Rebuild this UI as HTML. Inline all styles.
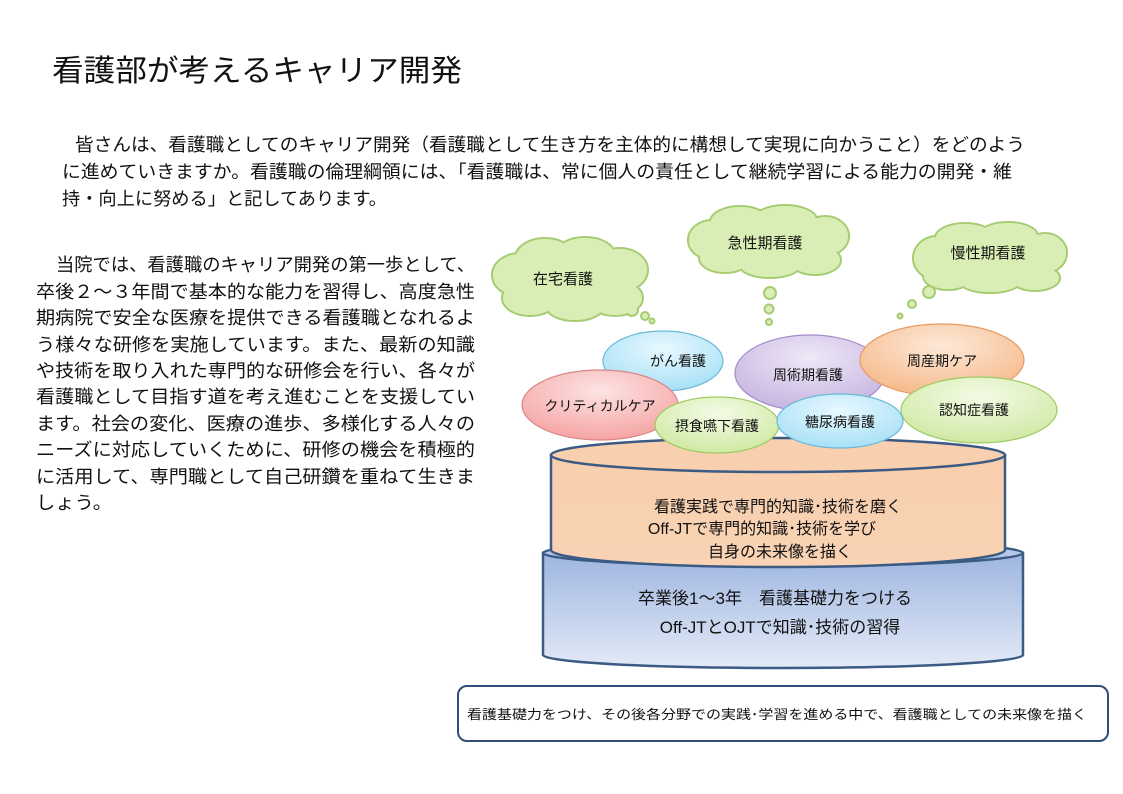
<!DOCTYPE html>
<html><head><meta charset="utf-8"><style>
html,body{margin:0;padding:0;background:#fff;}
svg{display:block;}
text{font-family:"Liberation Sans","Noto Sans CJK JP",sans-serif;fill:#111;}
</style></head><body>
<svg width="1123" height="794" viewBox="0 0 1123 794" xmlns="http://www.w3.org/2000/svg">
<defs>
<linearGradient id="gb" x1="0" y1="0" x2="0" y2="1"><stop offset="0" stop-color="#9db5e0"/><stop offset="1" stop-color="#e3eaf7"/></linearGradient>
<linearGradient id="gbt" x1="0" y1="0" x2="0" y2="1"><stop offset="0" stop-color="#c3d2ee"/><stop offset="1" stop-color="#a9bde4"/></linearGradient>
<linearGradient id="go" x1="0" y1="0" x2="0" y2="1"><stop offset="0" stop-color="#f8cfae"/><stop offset="1" stop-color="#f9d3b4"/></linearGradient>
<radialGradient id="gblue" cx="0.5" cy="0.3" r="0.7"><stop offset="0" stop-color="#e8f8ff"/><stop offset="1" stop-color="#a8e0f6"/></radialGradient>
<radialGradient id="gpink" cx="0.5" cy="0.3" r="0.7"><stop offset="0" stop-color="#fde3e3"/><stop offset="1" stop-color="#f5a4a4"/></radialGradient>
<radialGradient id="gpur" cx="0.5" cy="0.3" r="0.7"><stop offset="0" stop-color="#efe8f7"/><stop offset="1" stop-color="#c6b4e0"/></radialGradient>
<radialGradient id="gor" cx="0.5" cy="0.3" r="0.7"><stop offset="0" stop-color="#fde9d8"/><stop offset="1" stop-color="#f6b98a"/></radialGradient>
<radialGradient id="ggr" cx="0.5" cy="0.3" r="0.7"><stop offset="0" stop-color="#f4fbe6"/><stop offset="1" stop-color="#cfe9a3"/></radialGradient>
</defs>

<text x="52" y="81" font-size="30" textLength="410" lengthAdjust="spacingAndGlyphs">看護部が考えるキャリア開発</text>

<g font-size="18">
<text x="75" y="151" textLength="950" lengthAdjust="spacingAndGlyphs">皆さんは、看護職としてのキャリア開発（看護職として生き方を主体的に構想して実現に向かうこと）をどのよう</text>
<text x="62" y="178" textLength="950" lengthAdjust="spacingAndGlyphs">に進めていきますか。看護職の倫理綱領には、「看護職は、常に個人の責任として継続学習による能力の開発・維</text>
<text x="62" y="205" textLength="325" lengthAdjust="spacingAndGlyphs">持・向上に努める」と記してあります。</text>
</g>

<g font-size="18">
<text x="56" y="271" textLength="419" lengthAdjust="spacingAndGlyphs">当院では、看護職のキャリア開発の第一歩として、</text>
<text x="36" y="298" textLength="439" lengthAdjust="spacingAndGlyphs">卒後２～３年間で基本的な能力を習得し、高度急性</text>
<text x="36" y="324" textLength="439" lengthAdjust="spacingAndGlyphs">期病院で安全な医療を提供できる看護職となれるよ</text>
<text x="36" y="351" textLength="439" lengthAdjust="spacingAndGlyphs">う様々な研修を実施しています。また、最新の知識</text>
<text x="36" y="377" textLength="439" lengthAdjust="spacingAndGlyphs">や技術を取り入れた専門的な研修会を行い、各々が</text>
<text x="36" y="403" textLength="439" lengthAdjust="spacingAndGlyphs">看護職として目指す道を考え進むことを支援してい</text>
<text x="36" y="430" textLength="439" lengthAdjust="spacingAndGlyphs">ます。社会の変化、医療の進歩、多様化する人々の</text>
<text x="36" y="456" textLength="439" lengthAdjust="spacingAndGlyphs">ニーズに対応していくために、研修の機会を積極的</text>
<text x="36" y="483" textLength="439" lengthAdjust="spacingAndGlyphs">に活用して、専門職として自己研鑽を重ねて生きま</text>
<text x="36" y="509" textLength="76" lengthAdjust="spacingAndGlyphs">しょう。</text>
</g>

<!-- clouds -->
<g stroke="#a6cc72" stroke-width="2" fill="#d9eeb5">
  <ellipse cx="520" cy="275" rx="28" ry="22"/><ellipse cx="545" cy="258" rx="30" ry="20"/><ellipse cx="585" cy="255" rx="30" ry="18"/><ellipse cx="620" cy="270" rx="28" ry="22"/><ellipse cx="615" cy="298" rx="28" ry="18"/><ellipse cx="575" cy="305" rx="30" ry="16"/><ellipse cx="530" cy="298" rx="28" ry="18"/>
  <ellipse cx="712" cy="240" rx="24" ry="20"/><ellipse cx="740" cy="222" rx="30" ry="16"/><ellipse cx="785" cy="220" rx="32" ry="15"/><ellipse cx="825" cy="236" rx="24" ry="20"/><ellipse cx="815" cy="260" rx="26" ry="15"/><ellipse cx="770" cy="266" rx="30" ry="12"/><ellipse cx="725" cy="258" rx="26" ry="15"/>
  <ellipse cx="937" cy="258" rx="24" ry="22"/><ellipse cx="965" cy="238" rx="30" ry="15"/><ellipse cx="1008" cy="236" rx="30" ry="14"/><ellipse cx="1045" cy="253" rx="22" ry="20"/><ellipse cx="1035" cy="278" rx="25" ry="13"/><ellipse cx="990" cy="282" rx="30" ry="11"/><ellipse cx="948" cy="276" rx="25" ry="14"/>
 <circle cx="632" cy="310" r="6"/><circle cx="645" cy="316" r="4"/><circle cx="652" cy="321" r="2.5"/>
 <circle cx="770" cy="293" r="6"/><circle cx="769" cy="309" r="4.5"/><circle cx="769" cy="322" r="3"/>
 <circle cx="929" cy="292" r="6"/><circle cx="912" cy="304" r="4"/><circle cx="900" cy="316" r="2.5"/>
</g>
<g fill="#d9eeb5">
  <ellipse cx="520" cy="275" rx="27" ry="21"/><ellipse cx="545" cy="258" rx="29" ry="19"/><ellipse cx="585" cy="255" rx="29" ry="17"/><ellipse cx="620" cy="270" rx="27" ry="21"/><ellipse cx="615" cy="298" rx="27" ry="17"/><ellipse cx="575" cy="305" rx="29" ry="15"/><ellipse cx="530" cy="298" rx="27" ry="17"/><ellipse cx="570" cy="280" rx="50" ry="25"/>
  <ellipse cx="712" cy="240" rx="23" ry="19"/><ellipse cx="740" cy="222" rx="29" ry="15"/><ellipse cx="785" cy="220" rx="31" ry="14"/><ellipse cx="825" cy="236" rx="23" ry="19"/><ellipse cx="815" cy="260" rx="25" ry="14"/><ellipse cx="770" cy="266" rx="29" ry="11"/><ellipse cx="725" cy="258" rx="25" ry="14"/><ellipse cx="770" cy="242" rx="50" ry="20"/>
  <ellipse cx="937" cy="258" rx="23" ry="21"/><ellipse cx="965" cy="238" rx="29" ry="14"/><ellipse cx="1008" cy="236" rx="29" ry="13"/><ellipse cx="1045" cy="253" rx="21" ry="19"/><ellipse cx="1035" cy="278" rx="24" ry="12"/><ellipse cx="990" cy="282" rx="29" ry="10"/><ellipse cx="948" cy="276" rx="24" ry="13"/><ellipse cx="990" cy="258" rx="50" ry="22"/>
</g>
<g font-size="15" text-anchor="middle">
 <text x="563" y="284">在宅看護</text>
 <text x="765" y="248">急性期看護</text>
 <text x="988" y="258">慢性期看護</text>
</g>

<!-- blue cylinder -->
<path d="M543 553 L543 655 A240 13 0 0 0 1023 655 L1023 553 Z" fill="url(#gb)" stroke="#3b5a84" stroke-width="2.5"/>
<ellipse cx="783" cy="553" rx="240" ry="13" fill="url(#gbt)" stroke="#3b5a84" stroke-width="2.5"/>
<!-- orange cylinder -->
<path d="M551 455 L551 550 A227 17 0 0 0 1005 550 L1005 455 Z" fill="url(#go)" stroke="#3b5a84" stroke-width="2.5"/>
<ellipse cx="778" cy="455" rx="227" ry="17" fill="#f8d0b0" stroke="#3b5a84" stroke-width="2.5"/>

<!-- skill ellipses -->
<g stroke-width="1.2">
 <ellipse cx="663" cy="361" rx="60" ry="30" fill="url(#gblue)" stroke="#6cbad8"/>
 <ellipse cx="600" cy="405" rx="78" ry="35" fill="url(#gpink)" stroke="#d98585"/>
 <ellipse cx="810" cy="373" rx="75" ry="38" fill="url(#gpur)" stroke="#a48cc8"/>
 <ellipse cx="942" cy="360" rx="82" ry="36" fill="url(#gor)" stroke="#e79a62"/>
 <ellipse cx="979" cy="410" rx="78" ry="33" fill="url(#ggr)" stroke="#9ccb62"/>
 <ellipse cx="717" cy="425" rx="62" ry="28" fill="url(#ggr)" stroke="#9ccb62"/>
 <ellipse cx="840" cy="421" rx="63" ry="27" fill="url(#gblue)" stroke="#6cbad8"/>
</g>
<g font-size="14" text-anchor="middle">
 <text x="678" y="366">がん看護</text>
 <text x="600" y="411">クリティカルケア</text>
 <text x="808" y="380">周術期看護</text>
 <text x="942" y="366">周産期ケア</text>
 <text x="974" y="415">認知症看護</text>
 <text x="717" y="431">摂食嚥下看護</text>
 <text x="840" y="427">糖尿病看護</text>
</g>

<g font-size="16" text-anchor="middle">
 <text x="778" y="512">看護実践で専門的知識･技術を磨く</text>
 <text x="762" y="534">Off-JTで専門的知識･技術を学び</text>
 <text x="780" y="557">自身の未来像を描く</text>
</g>
<g font-size="17" text-anchor="middle">
 <text x="775" y="604">卒業後1～3年　看護基礎力をつける</text>
 <text x="780" y="633">Off-JTとOJTで知識･技術の習得</text>
</g>

<rect x="458" y="686" width="650" height="55" rx="9" fill="#fff" stroke="#2f4f78" stroke-width="2"/>
<text x="467" y="719" font-size="13" textLength="620" lengthAdjust="spacingAndGlyphs">看護基礎力をつけ、その後各分野での実践･学習を進める中で、看護職としての未来像を描く</text>
</svg>
</body></html>
